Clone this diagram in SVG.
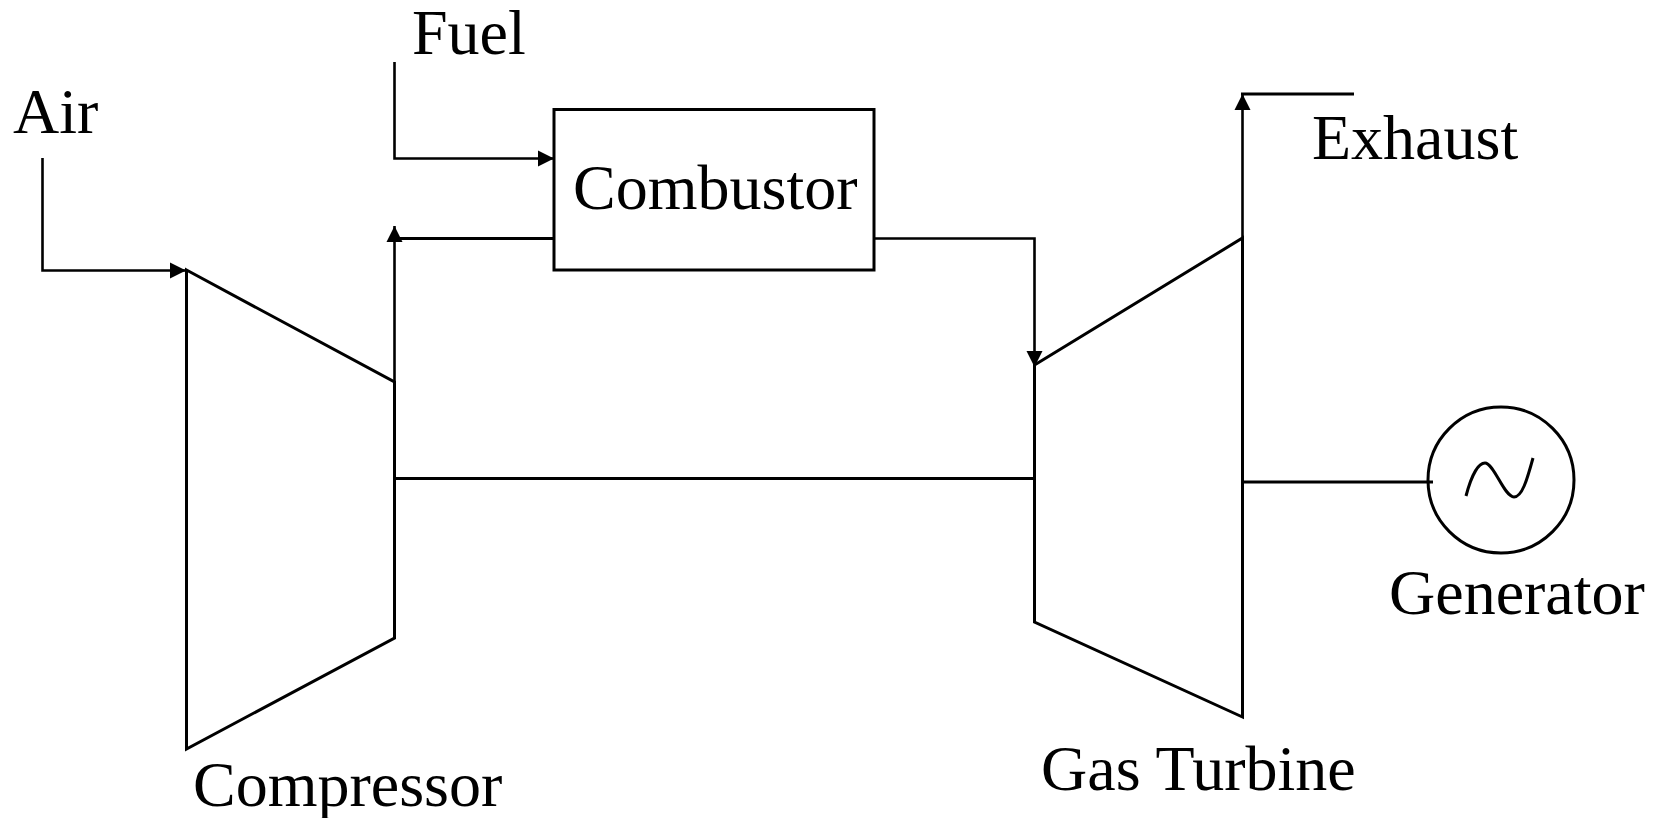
<svg xmlns="http://www.w3.org/2000/svg" width="1659" height="818" viewBox="0 0 1659 818">
<style>
.l{fill:none;stroke:#000;stroke-width:3}
.c{fill:none;stroke:#000;stroke-width:2.6}
.t{font-family:"Liberation Serif","Times New Roman",serif;font-size:64px;fill:#000}
</style>
<defs>
<marker id="a" markerUnits="userSpaceOnUse" markerWidth="17" markerHeight="18" refX="16" refY="9" orient="auto"><path d="M0 1L16 9L0 17Z" fill="#000"/></marker>
</defs>
<rect width="1659" height="818" fill="#fff"/>
<g id="connectors">
<path class="c" d="M42.500 158V270.500H186" marker-end="url(#a)"/>
<path class="c" d="M394.500 62V158.500H554" marker-end="url(#a)"/>
<path class="l" d="M553 238.500H394"/>
<path class="c" d="M394.500 382V226" marker-end="url(#a)"/>
<path class="c" d="M874 238.500H1034.500V367" marker-end="url(#a)"/>
<path class="c" d="M1242.500 238V94" marker-end="url(#a)"/>
<path class="l" d="M1241 94H1354"/>
<path class="l" d="M394 478.500H1034"/>
<path class="l" d="M1242 482H1433"/>
</g>
<g id="air"><text class="t" x="13" y="133">Air</text></g>
<g id="fuel"><text class="t" x="412" y="54">Fuel</text></g>
<g id="exhaust"><text class="t" x="1312" y="159">Exhaust</text></g>
<g id="compressor"><path class="l" d="M186.500 270L394.500 382V638L186.500 749Z"/><text class="t" x="193" y="806">Compressor</text></g>
<g id="combustor"><rect class="l" x="554" y="109.500" width="320" height="160.500"/><text class="t" x="573" y="209">Combustor</text></g>
<g id="turbine"><path class="l" d="M1034.500 365L1242.500 238V717L1034.500 622Z"/><text class="t" x="1041" y="790">Gas Turbine</text></g>
<g id="generator"><circle class="l" cx="1501" cy="480" r="73"/><path class="l" d="M1466 496C1472 473 1479 463 1485 463C1494 463 1504 497 1514 497C1522 497 1527 480 1533 458"/><text class="t" x="1389" y="614">Generator</text></g>
</svg>
